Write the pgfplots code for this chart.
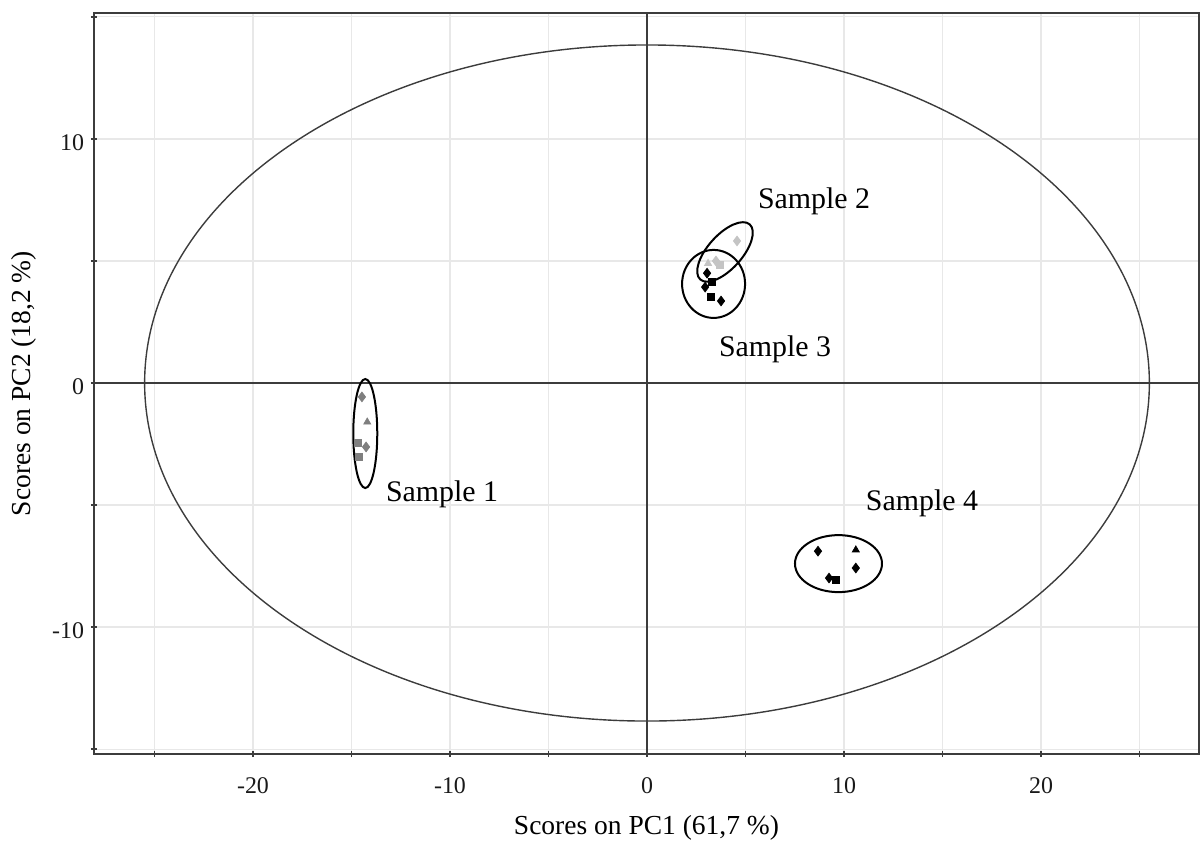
\documentclass[border=0pt]{standalone}
\usepackage{pgfplots}
\pgfplotsset{compat=1.18}
\usepackage{fontspec}
\setmainfont{Liberation Serif}
\usetikzlibrary{shapes.geometric}
\definecolor{gridc}{HTML}{E8E8E8}
\definecolor{axc}{HTML}{3C3C3C}
\definecolor{sa}{HTML}{7F7F7F}
\definecolor{sb}{HTML}{C4C4C4}
\begin{document}
\begin{tikzpicture}
\useasboundingbox (-47bp,-48bp) rectangle (554.5bp,377bp);
\begin{axis}[
 scale only axis, width=552.5bp, height=370.5bp,
 at={(0,0)}, anchor=south west,
 xmin=-28.07, xmax=28.02, ymin=-15.2, ymax=15.16,
 xtick={-20,-10,0,10,20}, xticklabels={-20,-10,0,10,20},
 ytick={-10,0,10}, yticklabels={-10,0,10},
 minor xtick={-25,-15,-5,5,15,25}, minor ytick={-15,-5,5,15},
 grid=both, grid style={gridc, line width=0.6bp}, minor grid style={gridc, line width=0.6bp},
 tick pos=left, tick align=center, major tick length=3bp, minor tick length=3bp,
 tick style={axc, line width=0.8bp},
 axis line style={axc, line width=1bp},
 ticklabel style={font=\fontsize{12}{14}\selectfont, text=black!90},
 xticklabel style={yshift=-7bp},
 yticklabel style={yshift=-2bp},
 xlabel={Scores on PC1 (61,7 \%)}, ylabel={Scores on PC2 (18,2 \%)},
 label style={font=\fontsize{13.8}{16}\selectfont},
 xlabel style={at={(axis description cs:0.5,-0.0999)}, anchor=center},
 ylabel style={at={(axis description cs:-0.0635,0.5)}, anchor=center},
 clip=false,
]
\draw[axc, line width=0.9bp] (axis cs:0,-15.2) -- (axis cs:0,15.16);
\draw[axc, line width=0.9bp] (axis cs:-28.07,0) -- (axis cs:28.02,0);
\draw[axc, line width=0.7bp] (axis cs:0,0) ellipse [x radius=25.5, y radius=13.85];

% Sample 1
\addplot[only marks, mark=diamond*, mark size=2.4bp, color=sa] coordinates {(-14.47,-0.57) (-14.26,-2.62)};
\addplot[only marks, mark=triangle*, mark size=2bp, color=sa] coordinates {(-14.2,-1.6)};
\addplot[only marks, mark=square*, mark size=1.7bp, color=sa] coordinates {(-14.67,-2.46) (-14.62,-3.03)};
% Sample 2
\addplot[only marks, mark=diamond*, mark size=2.4bp, color=sb] coordinates {(4.57,5.82) (3.5,5.0)};
\addplot[only marks, mark=triangle*, mark size=2bp, color=sb] coordinates {(3.1,4.9)};
\addplot[only marks, mark=square*, mark size=1.7bp, color=sb] coordinates {(3.7,4.85)};
% Sample 3
\addplot[only marks, mark=diamond*, mark size=2.4bp, color=black] coordinates {(3.05,4.5) (2.95,3.93) (3.76,3.36)};
\addplot[only marks, mark=square*, mark size=1.7bp, color=black] coordinates {(3.3,4.14) (3.25,3.52)};
% Sample 4
\addplot[only marks, mark=diamond*, mark size=2.4bp, color=black] coordinates {(8.68,-6.89) (10.6,-7.58) (9.24,-7.99)};
\addplot[only marks, mark=triangle*, mark size=2bp, color=black] coordinates {(10.6,-6.84)};
\addplot[only marks, mark=square*, mark size=1.7bp, color=black] coordinates {(9.6,-8.07)};

\node[draw, ellipse, inner sep=0pt, minimum width=12bp, minimum height=54.5bp, line width=1bp] at (axis cs:-14.3,-2.07) {};
\node[draw, ellipse, inner sep=0pt, minimum width=37bp, minimum height=17bp, rotate=48, line width=1bp] at (axis cs:3.96,5.37) {};
\node[draw, ellipse, inner sep=0pt, minimum width=31.5bp, minimum height=34bp, line width=1bp] at (axis cs:3.38,4.06) {};
\node[draw, ellipse, inner sep=0pt, minimum width=43.5bp, minimum height=28.5bp, line width=1bp] at (axis cs:9.72,-7.40) {};

\node[font=\fontsize{15}{18}\selectfont] at (axis cs:8.48,7.46) {Sample 2};
\node[font=\fontsize{15}{18}\selectfont] at (axis cs:6.5,1.39) {Sample 3};
\node[font=\fontsize{15}{18}\selectfont] at (axis cs:-10.4,-4.55) {Sample 1};
\node[font=\fontsize{15}{18}\selectfont] at (axis cs:13.96,-4.92) {Sample 4};
\end{axis}
\end{tikzpicture}
\end{document}
